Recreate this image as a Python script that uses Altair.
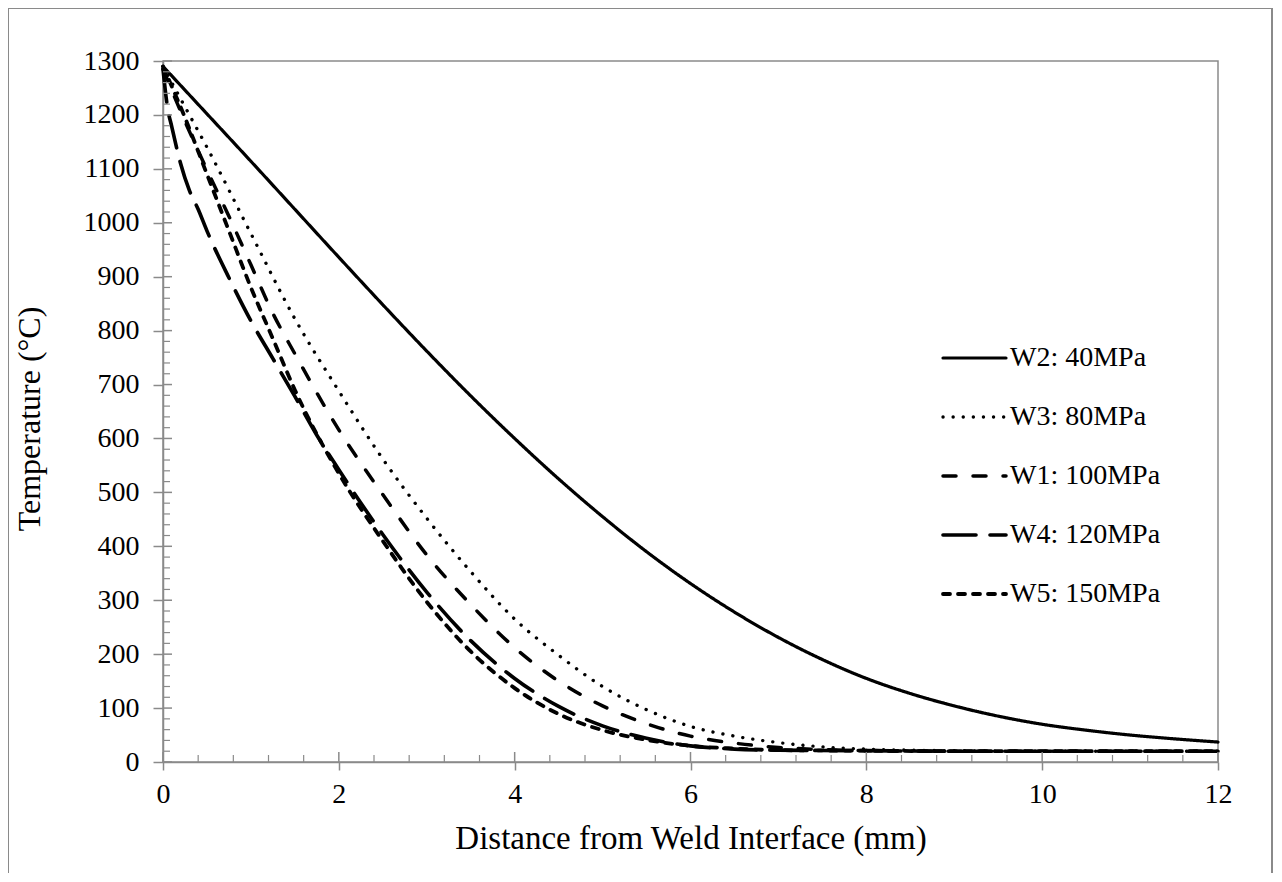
import altair as alt
import pandas as pd

# ---- data ----
W2_x = [0, 0.5, 1, 1.5, 2, 2.5, 3, 3.5, 4, 4.5, 5, 5.5, 6, 6.5, 7, 7.5, 8, 8.5, 9, 9.5, 10, 10.5, 11, 11.5, 12]
W2_T = [1290, 1202, 1114, 1025, 936, 848, 762, 679, 600, 525, 455, 390, 331, 278, 231, 190, 155, 127, 104, 85, 70, 59, 50, 43, 37]

W3_x = [0, 0.25, 0.5, 1, 1.5, 2, 2.5, 3, 3.5, 4, 4.5, 5, 5.5, 6, 6.5, 7, 7.5, 8, 9, 10, 11, 12]
W3_T = [1290, 1215, 1140, 980, 822, 688, 562, 452, 353, 265, 198, 140, 97, 66, 48, 36, 28, 24, 21, 20, 20, 20]

W1_x = [0, 0.25, 0.5, 0.75, 1, 1.25, 1.5, 2, 2.5, 3, 3.5, 4, 4.5, 5, 5.5, 6, 6.5, 7, 7.5, 8, 9, 10, 11, 12]
W1_T = [1285, 1188, 1098, 1012, 922, 832, 757, 616, 496, 384, 292, 212, 150, 104, 71, 48, 35, 27, 23, 21, 20, 20, 20, 20]

W4_x = [0, 0.05, 0.1, 0.2, 0.3, 0.4, 0.5, 0.75, 1, 1.25, 1.5, 1.75, 2, 2.5, 3, 3.5, 4, 4.5, 5, 5.5, 6, 6.5, 7, 8, 9, 10, 11, 12]
W4_T = [1285, 1215, 1178, 1110, 1060, 1025, 985, 898, 818, 748, 678, 606, 542, 422, 315, 225, 155, 103, 67, 44, 30, 24, 22, 21, 20, 20, 20, 20]

W5_x = [0, 0.25, 0.5, 0.75, 1, 1.25, 1.5, 2, 2.5, 3, 3.5, 4, 4.5, 5, 5.5, 6, 6.5, 7, 8, 9, 10, 11, 12]
W5_T = [1290, 1195, 1090, 985, 880, 785, 690, 535, 410, 297, 205, 137, 89, 59, 41, 30, 25, 22, 21, 20, 20, 20, 20]

labels = ["W2: 40MPa", "W3: 80MPa", "W1: 100MPa", "W4: 120MPa", "W5: 150MPa"]
dashes = [[1, 0], [0.1, 10], [13, 17], [33, 14], [7, 8]]
widths = [3.2, 3.8, 3.2, 3.2, 3.2]

x_major = [0, 2, 4, 6, 8, 10, 12]
y_major = [0, 100, 200, 300, 400, 500, 600, 700, 800, 900, 1000, 1100, 1200, 1300]

series = [(labels[0], W2_x, W2_T), (labels[1], W3_x, W3_T), (labels[2], W1_x, W1_T),
          (labels[3], W4_x, W4_T), (labels[4], W5_x, W5_T)]
rows = []
for name, xs, ts in series:
    for xv, tv in zip(xs, ts):
        rows.append({"label": name, "x": xv, "T": tv})
df = pd.DataFrame(rows)

x_minor = [round(i * 0.4, 2) for i in range(1, 30) if i % 5 != 0]
y_minor = [i * 20 for i in range(1, 65) if i % 5 != 0]

FONT = "Liberation Serif"
GRAY = "#8a8a8a"
W, H = 1055, 701

xs_ = alt.Scale(domain=[0, 12], nice=False, zero=False)
ys_ = alt.Scale(domain=[0, 1300], nice=False)
dash_scale = alt.Scale(domain=labels, range=dashes)
width_scale = alt.Scale(domain=labels, range=widths)

x_axis = alt.Axis(values=x_major, title="Distance from Weld Interface (mm)", grid=False, format="d",
                  labelFlush=False,
                  tickSize=8, tickColor=GRAY, tickWidth=1.5, domainColor=GRAY, domainWidth=1.5,
                  labelFont=FONT, labelFontSize=28, labelColor="black", labelPadding=10,
                  titleFont=FONT, titleFontSize=33, titleFontWeight="normal", titleColor="black",
                  titleY=76, titleBaseline="middle")
y_axis = alt.Axis(values=y_major, title="Temperature (°C)", grid=False, format="d",
                  labelFlush=False,
                  tickSize=10, tickColor=GRAY, tickWidth=1.5, domainColor=GRAY, domainWidth=1.5,
                  labelFont=FONT, labelFontSize=28, labelColor="black", labelPadding=14,
                  titleFont=FONT, titleFontSize=32, titleFontWeight="normal", titleColor="black",
                  titleX=-134, titleY=H / 2 + 7, titleBaseline="middle", titleAngle=270)

lines = alt.Chart(df).mark_line(color="black", strokeCap="round", interpolate="monotone").encode(
    x=alt.X("x:Q", scale=xs_, axis=x_axis),
    y=alt.Y("T:Q", scale=ys_, axis=y_axis),
    strokeDash=alt.StrokeDash("label:N", scale=dash_scale, legend=None),
    strokeWidth=alt.StrokeWidth("label:N", scale=width_scale, legend=None),
    detail="label:N",
)

# inward tick marks (Excel style ticks crossing the axis)
xmaj = alt.Chart(pd.DataFrame({"x": x_major})).mark_rule(color=GRAY, strokeWidth=1.5).encode(
    x=alt.X("x:Q", scale=xs_, axis=x_axis), y=alt.value(H - 10), y2=alt.value(H))
xmin = alt.Chart(pd.DataFrame({"x": x_minor})).mark_rule(color=GRAY, strokeWidth=1.2).encode(
    x=alt.X("x:Q", scale=xs_, axis=x_axis), y=alt.value(H - 7), y2=alt.value(H))
ymaj = alt.Chart(pd.DataFrame({"T": y_major})).mark_rule(color=GRAY, strokeWidth=1.5).encode(
    y=alt.Y("T:Q", scale=ys_, axis=None), x=alt.value(0), x2=alt.value(9))
ymin = alt.Chart(pd.DataFrame({"T": y_minor})).mark_rule(color=GRAY, strokeWidth=1.2).encode(
    y=alt.Y("T:Q", scale=ys_, axis=None), x=alt.value(0), x2=alt.value(7))

# legend drawn from the same dash scale
leg_df = pd.DataFrame({"label": labels})
leg_y = alt.Scale(type="point", domain=labels, range=[297, 533], padding=0)
leg_lines = alt.Chart(leg_df).mark_rule(color="black", strokeCap="round").encode(
    y=alt.Y("label:N", scale=leg_y, axis=None),
    x=alt.value(780), x2=alt.value(843),
    strokeDash=alt.StrokeDash("label:N", scale=dash_scale, legend=None),
    strokeWidth=alt.StrokeWidth("label:N", scale=width_scale, legend=None),
)
leg_text = alt.Chart(leg_df).mark_text(align="left", baseline="middle", font=FONT, fontSize=28,
                                       color="black").encode(
    y=alt.Y("label:N", scale=leg_y, axis=None),
    x=alt.value(847),
    text="label:N",
)

frame_df = pd.DataFrame({"a": [0]})
frame_l = alt.Chart(frame_df).mark_rule(color=GRAY, strokeWidth=2).encode(
    x=alt.value(-155), y=alt.value(-53), y2=alt.value(812))
frame_t = alt.Chart(frame_df).mark_rule(color=GRAY, strokeWidth=2).encode(
    x=alt.value(-155), x2=alt.value(1109), y=alt.value(-53))
frame_r = alt.Chart(frame_df).mark_rule(color=GRAY, strokeWidth=2).encode(
    x=alt.value(1109), y=alt.value(-53), y2=alt.value(812))

chart = alt.layer(lines, xmaj, xmin, ymaj, ymin, leg_lines, leg_text, frame_l, frame_t, frame_r).resolve_scale(
    y="independent"
).properties(
    width=W, height=H,
    autosize=alt.AutoSizeParams(type="none"),
    padding={"left": 155, "top": 53, "right": 56, "bottom": 112},
    background="white",
).configure_view(stroke=GRAY, strokeWidth=1.5)

chart.save("out.html", embed_options={"renderer": "svg", "actions": False})
